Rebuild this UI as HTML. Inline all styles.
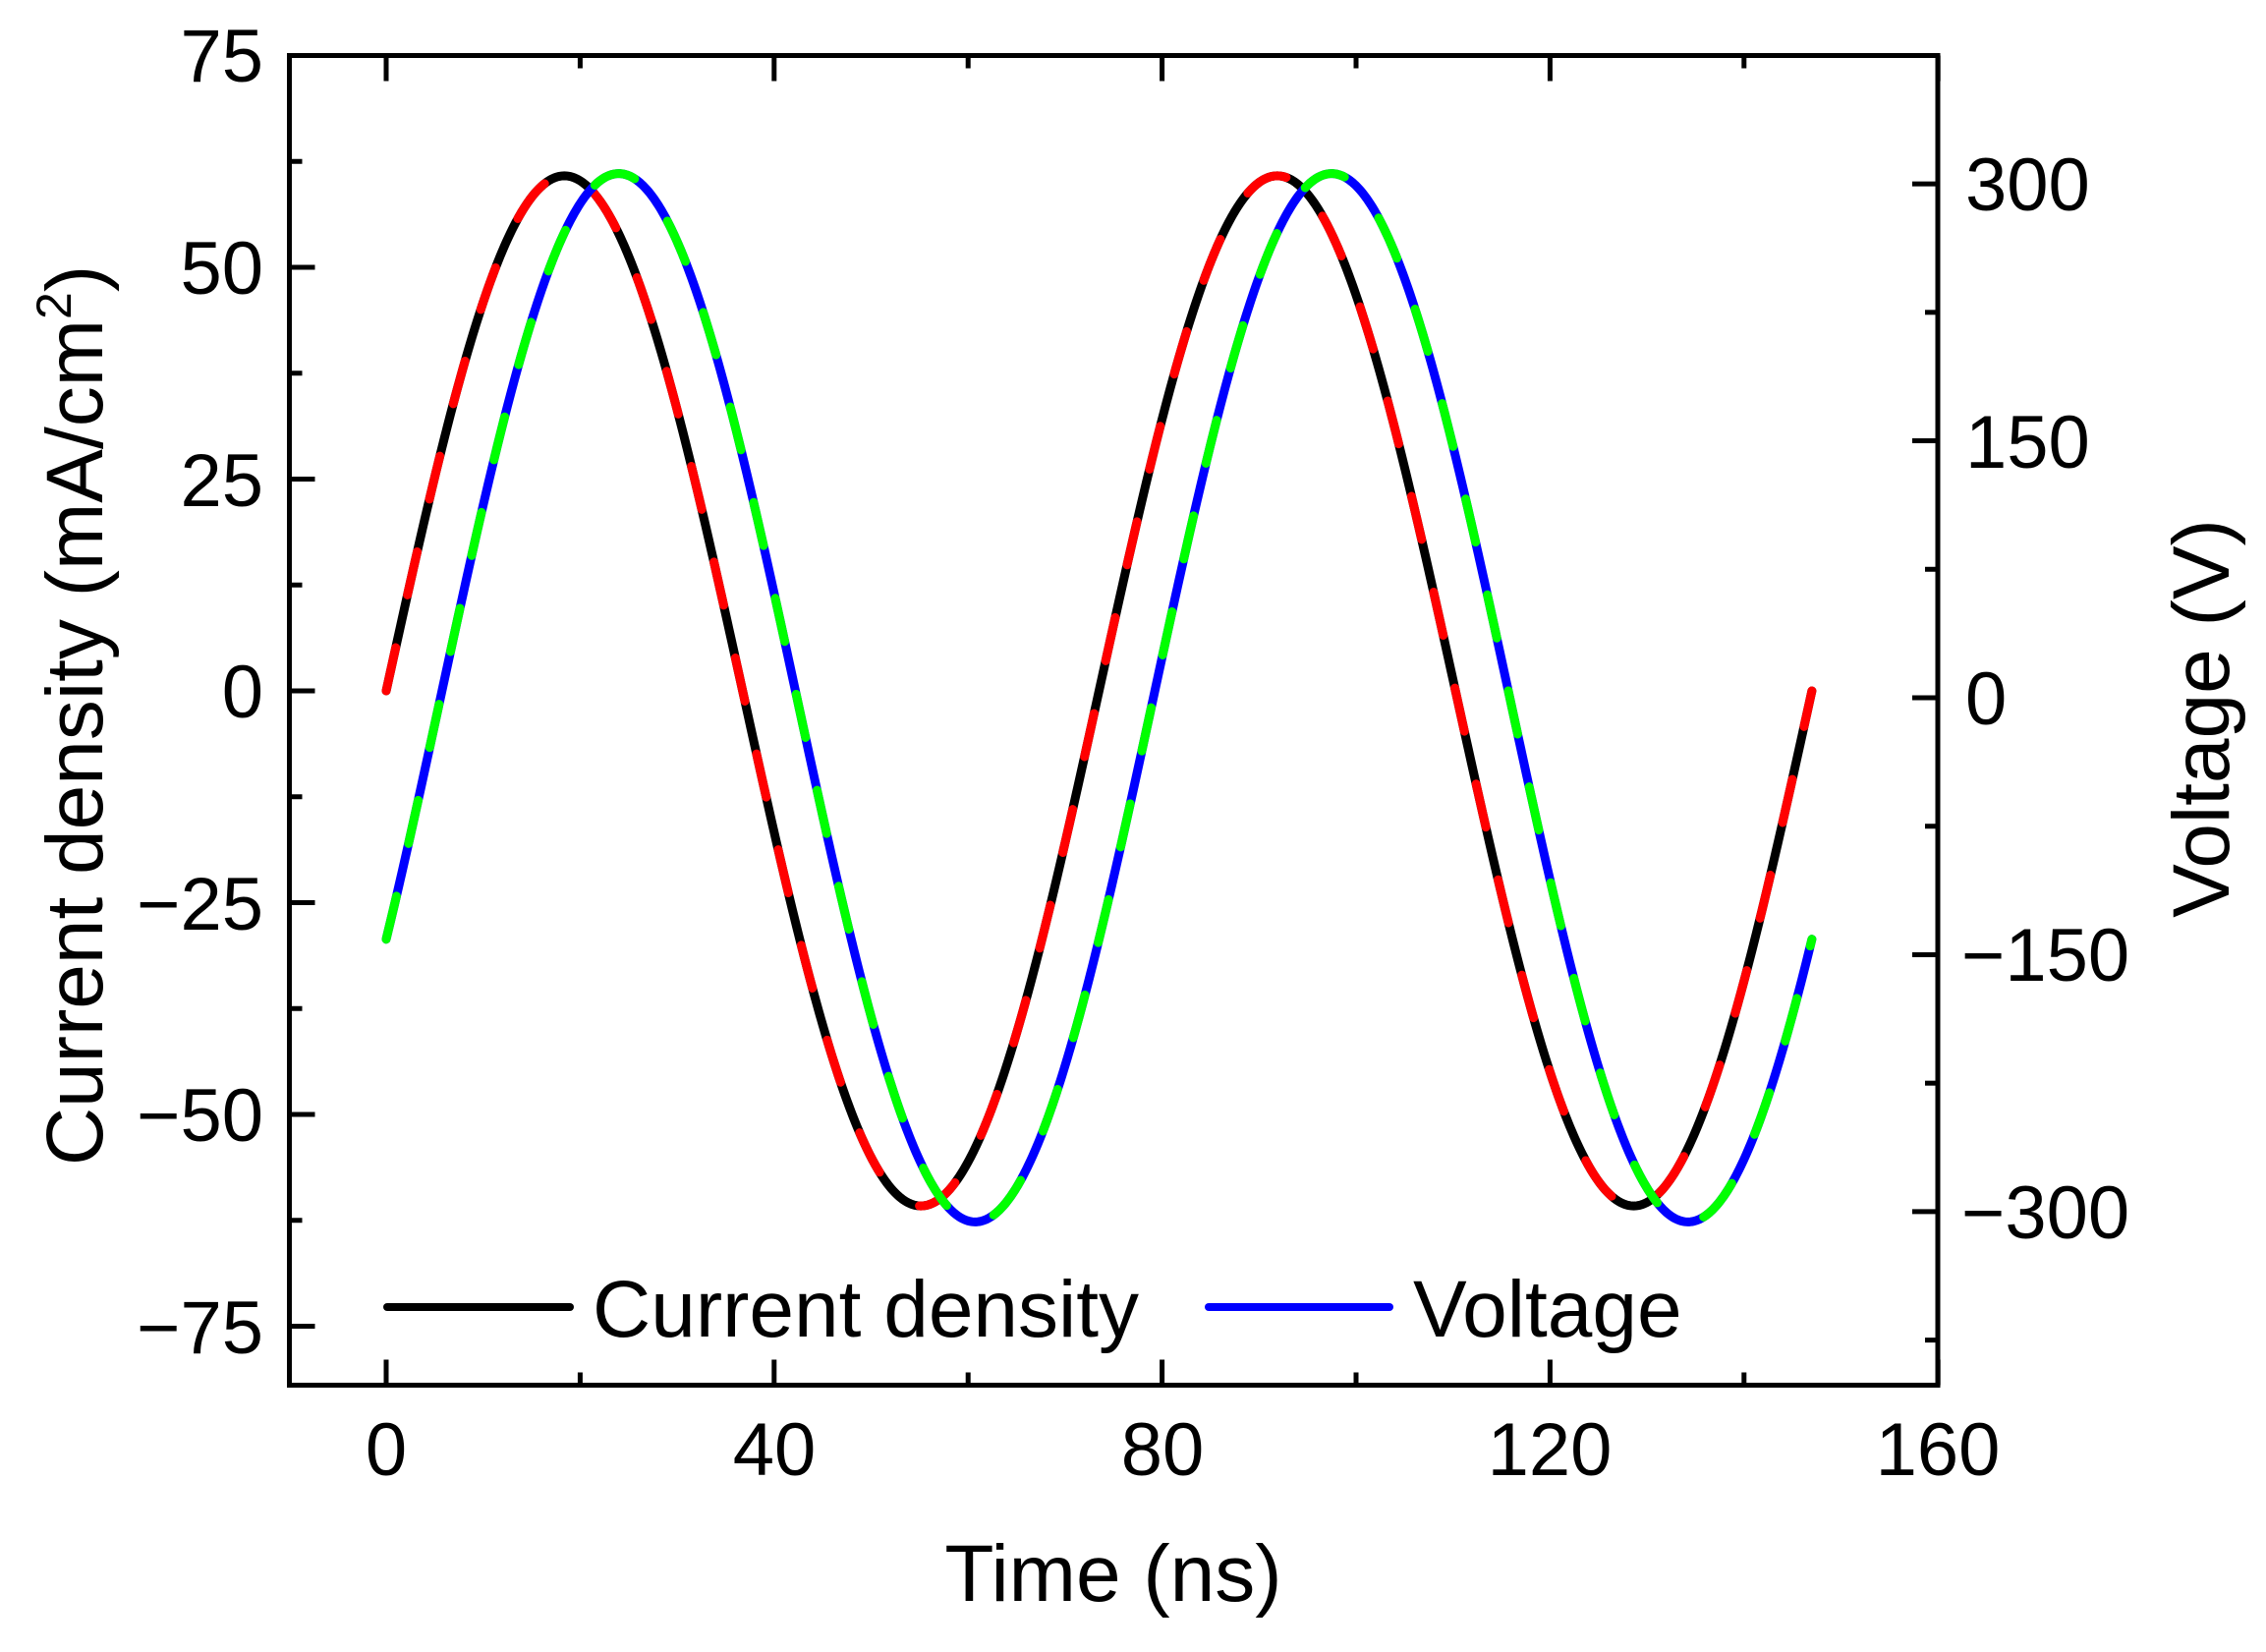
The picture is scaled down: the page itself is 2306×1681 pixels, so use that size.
<!DOCTYPE html>
<html><head><meta charset="utf-8"><style>
html,body{margin:0;padding:0;background:#fff}
svg{display:block}
text{font-family:"Liberation Sans",Arial,sans-serif;fill:#000}
</style></head><body>
<svg id="s" width="2306" height="1681" viewBox="0 0 2306 1681" xmlns="http://www.w3.org/2000/svg">
<g id="ticks" stroke="#000" stroke-width="5"></g>
<g id="curves" fill="none" stroke-width="9" stroke-linecap="round"></g>
<rect x="294.5" y="56.5" width="1677.5" height="1353" fill="none" stroke="#000" stroke-width="5"/>
<g font-size="76" text-anchor="end">
<text x="268" y="83">75</text>
<text x="268" y="299">50</text>
<text x="268" y="515">25</text>
<text x="268" y="730">0</text>
<text x="268" y="946">−25</text>
<text x="268" y="1161">−50</text>
<text x="268" y="1377">−75</text>
</g>
<g font-size="76" text-anchor="start">
<text x="2000" y="214">300</text>
<text x="2000" y="476">150</text>
<text x="2000" y="737">0</text>
<text x="1996" y="998">−150</text>
<text x="1996" y="1260">−300</text>
</g>
<g font-size="76" text-anchor="middle">
<text x="393" y="1501">0</text>
<text x="788" y="1501">40</text>
<text x="1183" y="1501">80</text>
<text x="1577" y="1501">120</text>
<text x="1972" y="1501">160</text>
</g>
<text x="1133" y="1629" font-size="82" text-anchor="middle">Time (ns)</text>
<text transform="translate(104,728) rotate(-90)" font-size="82" text-anchor="middle">Current density (mA/cm<tspan font-size="50" dy="-32">2</tspan><tspan dy="32">)</tspan></text>
<text transform="translate(2268,731) rotate(-90)" font-size="82" text-anchor="middle">Voltage (V)</text>
<line x1="394" y1="1330" x2="580" y2="1330" stroke="#000" stroke-width="8" stroke-linecap="round"/>
<text x="603" y="1360" font-size="82">Current density</text>
<line x1="1230" y1="1330" x2="1414" y2="1330" stroke="#00f" stroke-width="8" stroke-linecap="round"/>
<text x="1438" y="1360" font-size="82">Voltage</text>
</svg>
<script>
(function(){
var NS="http://www.w3.org/2000/svg";
var L=294.5,R=1972,T=56.5,B=1409.5;
function X(t){return 393+t*9.87;}
function YL(v){return 703-v*8.62;}
function YR(v){return 710-v*1.743;}
var tk=document.getElementById('ticks');
function ln(x1,y1,x2,y2){var l=document.createElementNS(NS,'line');l.setAttribute('x1',x1);l.setAttribute('y1',y1);l.setAttribute('x2',x2);l.setAttribute('y2',y2);tk.appendChild(l);}
for(var t=0;t<=160;t+=20){var x=X(t),len=(t%40==0)?26:13;ln(x,B,x,B-len);ln(x,T,x,T+len);}
for(var v=-75;v<=75;v+=12.5){var y=YL(v),len=(Math.abs(v%25)<0.01)?26:13;ln(L,y,L+len,y);}
for(var v=-375;v<=375;v+=75){var y=YR(v);if(y<T||y>B)continue;var len=(Math.abs(v%150)<0.01)?26:13;ln(R,y,R-len,y);}
var P=73.5;
function path(f,yf){var d='';for(var i=0;i<=1000;i++){var t=147*i/1000;d+=(i?'L':'M')+X(t).toFixed(2)+' '+yf(f(t)).toFixed(2);}return d;}
var dc=path(function(t){return 60.8*Math.sin(2*Math.PI*t/P);},YL);
var dv=path(function(t){return 306*Math.sin(2*Math.PI*(t-5.6)/P);},YR);
var g=document.getElementById('curves');
function add(d,c,da){var p=document.createElementNS(NS,'path');p.setAttribute('d',d);p.setAttribute('stroke',c);if(da){p.setAttribute('stroke-dasharray',da);}g.appendChild(p);}
add(dc,'#000');add(dc,'#f00','45 55');
add(dv,'#00f');add(dv,'#0f0','45 55');
})();
</script>
</body></html>
